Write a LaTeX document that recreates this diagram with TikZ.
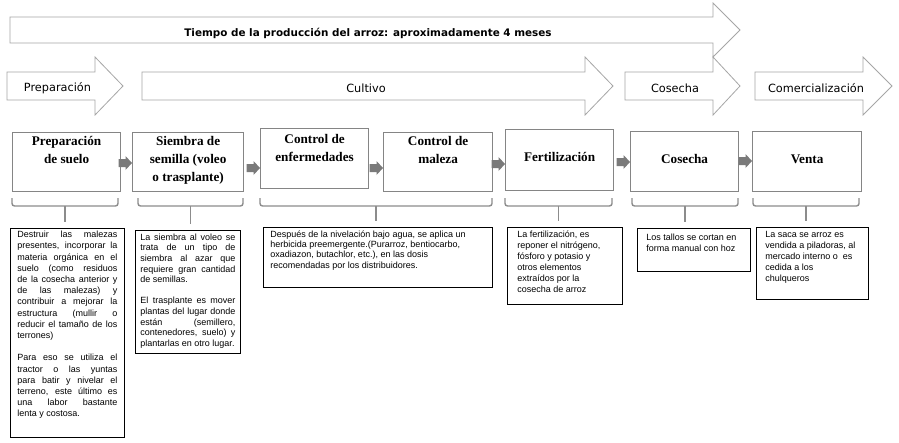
\documentclass[tikz,border=0pt]{standalone}
\usepackage{fontspec}
\setmainfont{Liberation Serif}
\newfontfamily\arialf{Liberation Sans}
\newfontfamily\dejavuf{DejaVu Sans}
\usetikzlibrary{calc}
\definecolor{arrowline}{HTML}{A6A6A6}
\definecolor{boxline}{HTML}{858585}
\definecolor{flowfill}{HTML}{7A7A7A}
\definecolor{braceline}{HTML}{8C8C8C}
\newcommand\jl[1]{\makebox[\linewidth][s]{#1}\par}
\newcommand\pl[1]{\mbox{#1}\par}
\newcommand\flowarr[3]{\fill[flowfill] (#2.west |- 0,#3) -- ++(-6.5,-7) -- ++(0,3) -- ++(-7,0) -- ++(0,8) -- ++(7,0) -- ++(0,3) -- cycle;}
\tikzset{
  bigarrow/.style={draw=arrowline, fill=white, line width=0.8pt, line join=miter},
  toplabel/.style={font=\dejavuf\bfseries\fontsize{10.4}{12}\selectfont, anchor=base, inner sep=0pt},
  phaselabel/.style={font=\dejavuf\fontsize{11.3}{13}\selectfont, anchor=base, inner sep=0pt},
  stagebox/.style={draw=boxline, line width=1.2pt, inner sep=0pt, anchor=north west,
    font=\bfseries\fontsize{13.2}{18}\selectfont},
  tbox/.style={draw=black, line width=0.9pt, anchor=north west, fill=white},
  brace/.style={draw=braceline, line width=1.4pt, rounded corners=2.5pt},
  stem/.style={draw=braceline, line width=1.4pt, shorten >=6pt}
}
\newcommand\stagetext[4]{\parbox[t][#2pt][t]{#1pt}{\centering\rule{0pt}{#3pt}#4}}
\begin{document}
\begin{tikzpicture}[x=1pt,y=-1pt]
\useasboundingbox[fill=white] (0,0) rectangle (899,442);

% top arrow
\draw[bigarrow] (10,17) -- (713,17) -- (713,3) -- (740,30) -- (713,57) -- (713,43) -- (10,43) -- cycle;
\node[toplabel] (ttl) at (368,36) {Tiempo de la producción del arroz: aproximadamente 4 meses};

% phase arrows
\draw[bigarrow] (7,72) -- (95,72) -- (95,57) -- (123,86) -- (95,115) -- (95,100) -- (7,100) -- cycle;
\draw[bigarrow] (142,72) -- (585,72) -- (585,57) -- (613,86) -- (585,115) -- (585,100) -- (142,100) -- cycle;
\draw[bigarrow] (625,72) -- (713,72) -- (713,57) -- (740,86) -- (713,115) -- (713,100) -- (625,100) -- cycle;
\draw[bigarrow] (755,72) -- (863,72) -- (863,57) -- (892,86) -- (863,115) -- (863,100) -- (755,100) -- cycle;
\node[phaselabel] (lprep) at (57.5,91) {Preparación};
\node[phaselabel] (lcult) at (366,92) {Cultivo};
\node[phaselabel] (lcos) at (675,92) {Cosecha};
\node[phaselabel] (lcom) at (816,92) {Comercialización};

% stage boxes
\node[stagebox] (b1) at (12,132) {\stagetext{108}{59}{13}{Preparación\\de suelo}};
\node[stagebox] (b2) at (132,132) {\stagetext{111}{59}{13}{Siembra de\\semilla (voleo\\o trasplante)}};
\node[stagebox] (b3) at (260,128) {\stagetext{108}{60}{15}{Control de\\enfermedades}};
\node[stagebox] (b4) at (383,132) {\stagetext{109}{59}{13}{Control de\\maleza}};
\node[stagebox] (b5) at (505,129) {\stagetext{108}{61}{32}{Fertilización}};
\node[stagebox] (b6) at (630,131) {\stagetext{108}{60}{32}{Cosecha}};
\node[stagebox] (b7) at (752,131) {\stagetext{109}{60}{32}{Venta}};

% flow arrows
\flowarr{b1}{b2}{163}
\flowarr{b2}{b3}{168}
\flowarr{b3}{b4}{168}
\flowarr{b4}{b5}{164}
\flowarr{b5}{b6}{162}
\flowarr{b6}{b7}{161}

% text boxes
\node[tbox, inner xsep=7pt, inner ysep=1.4pt] (t1) at (10,228) {\parbox[t][206pt][t]{100pt}{\arialf\fontsize{9}{11.2}\selectfont
\jl{\strut Destruir las malezas}
\jl{presentes, incorporar la}
\jl{materia orgánica en el}
\jl{suelo (como residuos}
\jl{de la cosecha anterior y}
\jl{de las malezas) y}
\jl{contribuir a mejorar la}
\jl{estructura (mullir o}
\jl{reducir el tamaño de los}
\pl{terrones)}
\vspace{11.2pt}
\jl{Para eso se utiliza el}
\jl{tractor o las yuntas}
\jl{para batir y nivelar el}
\jl{terreno, este último es}
\jl{una labor bastante}
\pl{lenta y costosa.}}};

\node[tbox, inner xsep=5pt, inner ysep=2.4pt] (t2) at (135,230) {\parbox[t][118pt][t]{95pt}{\arialf\fontsize{9}{10.6}\selectfont
\jl{\strut La siembra al voleo se}
\jl{trata de un tipo de}
\jl{siembra al azar que}
\jl{requiere gran cantidad}
\pl{de semillas.}
\vspace{10.6pt}
\jl{El trasplante es mover}
\jl{plantas del lugar donde}
\jl{están (semillero,}
\jl{contenedores, suelo) y}
\pl{plantarlas en otro lugar.}}};

\node[tbox, inner xsep=7pt, inner ysep=2.4pt] (t3) at (263,227) {\parbox[t][55pt][t]{215pt}{\arialf\fontsize{9}{10.4}\selectfont\raggedright
\strut Después de la nivelación bajo agua, se aplica un\\
herbicida preemergente.(Purarroz, bentiocarbo,\\
oxadiazon, butachlor, etc.), en las dosis\\
recomendadas por los distribuidores.}};

\node[tbox, inner xsep=10pt, inner ysep=2.4pt] (t4) at (507,227) {\parbox[t][72pt][t]{95pt}{\arialf\fontsize{9}{11}\selectfont\raggedright
\strut La fertilización, es\\
reponer el nitrógeno,\\
fósforo y potasio y\\
otros elementos\\
extraídos por la\\
cosecha de arroz}};

\node[tbox, inner xsep=9pt, inner ysep=4pt] (t5) at (637,228) {\parbox[t][35pt][t]{95pt}{\arialf\fontsize{9}{11}\selectfont\raggedright
\strut Los tallos se cortan en\\
forma manual con hoz}};

\node[tbox, inner xsep=9pt, inner ysep=2.4pt] (t6) at (756,227) {\parbox[t][67pt][t]{94pt}{\arialf\fontsize{9}{11}\selectfont\raggedright
\strut La saca se arroz es\\
vendida a piladoras, al\\
mercado interno o \ es\\
cedida a los\\
chulqueros}};

% braces
\draw[brace] (12,198) -- (12,206) -- (118,206) -- (118,198);
\draw[brace] (138,198) -- (138,206) -- (243,206) -- (243,198);
\draw[brace] (260,198) -- (260,206) -- (492,206) -- (492,198);
\draw[brace] (505,198) -- (505,206) -- (612,206) -- (612,198);
\draw[brace] (632,198) -- (632,206) -- (738,206) -- (738,198);
\draw[brace] (753,198) -- (753,206) -- (859,206) -- (859,198);
\coordinate (m1) at (65,206);
\coordinate (m2) at (190.5,206);
\coordinate (m3) at (376,206);
\coordinate (m4) at (558.5,206);
\coordinate (m5) at (685,206);
\coordinate (m6) at (806,206);
\draw[stem] (m1) -- (m1 |- t1.north);
\draw[stem] (m2) -- (m2 |- t2.north);
\draw[stem] (m3) -- (m3 |- t3.north);
\draw[stem] (m4) -- (m4 |- t4.north);
\draw[stem] (m5) -- (m5 |- t5.north);
\draw[stem] (m6) -- (m6 |- t6.north);
\end{tikzpicture}
\end{document}
